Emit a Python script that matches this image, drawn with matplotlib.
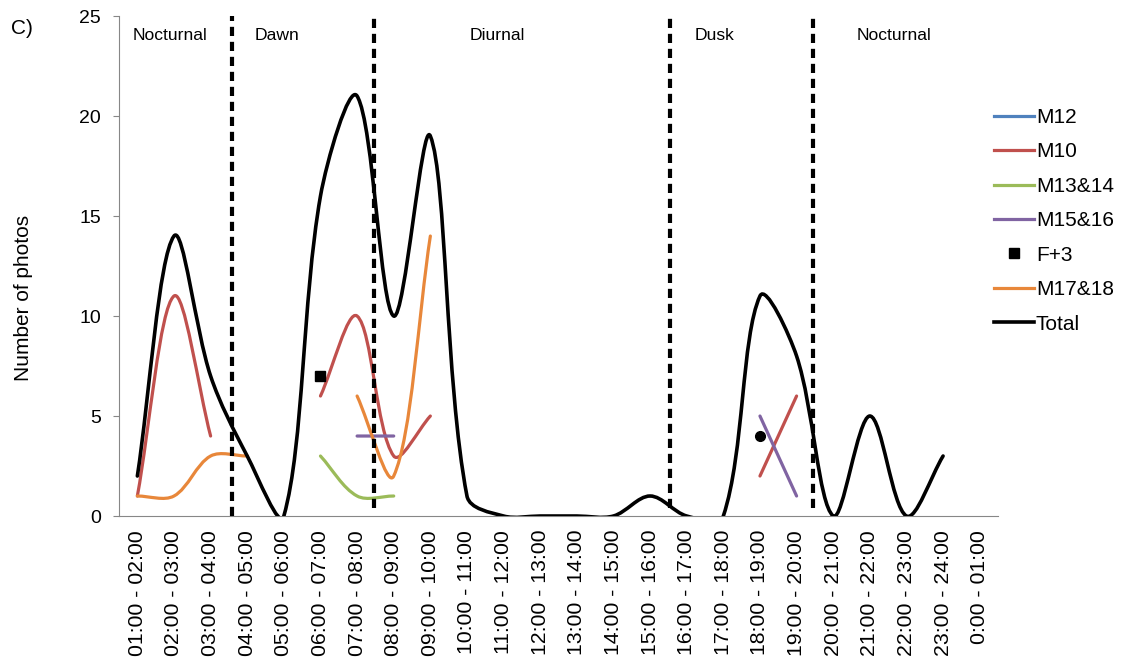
import matplotlib
matplotlib.use("Agg")
import matplotlib.pyplot as plt
import numpy as np
from matplotlib.path import Path
from matplotlib.patches import PathPatch
from matplotlib.lines import Line2D

plt.rcParams['font.family'] = ['Liberation Sans', 'DejaVu Sans']

nan = np.nan

hours = ["01:00 - 02:00", "02:00 - 03:00", "03:00 - 04:00", "04:00 - 05:00",
         "05:00 - 06:00", "06:00 - 07:00", "07:00 - 08:00", "08:00 - 09:00",
         "09:00 - 10:00", "10:00 - 11:00", "11:00 - 12:00", "12:00 - 13:00",
         "13:00 - 14:00", "14:00 - 15:00", "15:00 - 16:00", "16:00 - 17:00",
         "17:00 - 18:00", "18:00 - 19:00", "19:00 - 20:00", "20:00 - 21:00",
         "21:00 - 22:00", "22:00 - 23:00", "23:00 - 24:00", "0:00 - 01:00"]

m12 = [nan] * 24
m10 = [1, 11, 4, nan, nan, 6, 10, 3, 5, nan, nan, nan, nan, nan, nan, nan,
       nan, 2, 6, nan, nan, nan, nan, nan]
m13_14 = [nan, nan, nan, nan, nan, 3, 1, 1, nan, nan, nan, nan, nan, nan, nan,
          nan, nan, nan, nan, nan, nan, nan, nan, nan]
m15_16 = [nan, nan, nan, nan, nan, nan, 4, 4, nan, nan, nan, nan, nan, nan, nan,
          nan, nan, 5, 1, nan, nan, nan, nan, nan]
f3 = [nan, nan, nan, nan, nan, 7, nan, nan, nan, nan, nan, nan, nan, nan, nan,
      nan, nan, 4, nan, nan, nan, nan, nan, nan]
m17_18 = [1, 1, 3, 3, nan, nan, 6, 2, 14, nan, nan, nan, nan, nan, nan, nan,
          nan, nan, nan, nan, nan, nan, nan, nan]
total = [2, 14, 7, 3, 0, 16, 21, 10, 19, 1, 0, 0, 0, 0, 1, 0, 0, 11, 8, 0, 5,
         0, 3, nan]

# period boundaries (category units) and their labels
bounds = [2.58, 6.46, 14.54, 18.45]
periods = ["Nocturnal", "Dawn", "Diurnal", "Dusk", "Nocturnal"]
period_x = [0.89, 3.81, 9.82, 15.75, 20.66]

fig = plt.figure(figsize=(11.22, 6.63), dpi=100)
ax = fig.add_axes([0.1061, 0.2217, 0.7834, 0.7541])
ax.set_xlim(-0.5, 23.5)
ax.set_ylim(0, 25)


def smooth_path(ax, xs, ys):
    """Excel-like smoothed line: bezier through the points, built in screen space."""
    pts = ax.transData.transform(np.column_stack([xs, ys]))
    n = len(pts)
    verts = [pts[0]]
    codes = [Path.MOVETO]
    for i in range(n - 1):
        p0 = pts[i - 1] if i > 0 else pts[i]
        p1 = pts[i]
        p2 = pts[i + 1]
        p3 = pts[i + 2] if i + 2 < n else pts[i + 1]
        d01 = np.hypot(*(p1 - p0))
        d12 = np.hypot(*(p2 - p1))
        d23 = np.hypot(*(p3 - p2))
        c1 = p1 + (p2 - p0) * d12 / (d01 + d12) / 3
        c2 = p2 - (p3 - p1) * d12 / (d12 + d23) / 3
        verts += [c1, c2, p2]
        codes += [Path.CURVE4] * 3
    verts = ax.transData.inverted().transform(np.array(verts))
    return Path(verts, codes)


def plot_smooth(ax, values, color, lw, z):
    vals = np.array(values, dtype=float)
    x = np.arange(len(vals))
    ok = ~np.isnan(vals)
    # split into runs of consecutive points
    start = None
    for i in range(len(vals) + 1):
        if i < len(vals) and ok[i]:
            if start is None:
                start = i
        elif start is not None:
            if i - start > 1:
                p = smooth_path(ax, x[start:i], vals[start:i])
                ax.add_patch(PathPatch(p, fill=False, edgecolor=color, lw=lw,
                                       capstyle='round', joinstyle='round',
                                       zorder=z))
            start = None


c_blue = '#4F81BD'
c_red = '#C0504D'
c_green = '#9BBB59'
c_purple = '#8064A2'
c_orange = '#E8873A'

plot_smooth(ax, m12, c_blue, 2.3, 2)
plot_smooth(ax, m10, c_red, 2.3, 3)
plot_smooth(ax, m13_14, c_green, 2.3, 4)
plot_smooth(ax, m15_16, c_purple, 2.3, 5)
xf = np.arange(24)
f3a = np.array(f3, dtype=float)
ax.plot(xf[:10], f3a[:10], 's', color='black', ms=7, zorder=6)
ax.plot(xf[10:], f3a[10:], 'o', color='black', ms=7, zorder=6)
plot_smooth(ax, m17_18, c_orange, 2.3, 7)
plot_smooth(ax, total, 'black', 2.6, 8)

for i, b in enumerate(bounds):
    ax.plot([b, b], [0 if i == 0 else 0.4, 25], color='black', lw=3,
            linestyle=(0, (2.2, 1.4)), zorder=9, solid_capstyle='butt')

for name, px in zip(periods, period_x):
    ax.text(px, 24.05, name, ha='center', va='center', fontsize=12.6)

ax.set_xticks(np.arange(24))
ax.set_xticklabels(hours, rotation=90, fontsize=15.3)
ax.tick_params(axis='x', length=0, pad=10)
ax.set_yticks([0, 5, 10, 15, 20, 25])
ax.tick_params(axis='y', length=4.3, width=0.8, color='#878787', pad=8.6,
               labelsize=14)
for s in ['top', 'right']:
    ax.spines[s].set_visible(False)
for s in ['left', 'bottom']:
    ax.spines[s].set_color('#878787')
    ax.spines[s].set_linewidth(0.8)

ax.set_ylabel("Number of photos", fontsize=15)
ax.yaxis.set_label_coords(-0.098, 0.436)
fig.text(11 / 1122, 1 - 29 / 663, "C)", fontsize=15, va='center', ha='left')

handles = [Line2D([], [], color=c_blue, lw=2.3),
           Line2D([], [], color=c_red, lw=2.3),
           Line2D([], [], color=c_green, lw=2.3),
           Line2D([], [], color=c_purple, lw=2.3),
           Line2D([], [], color='black', marker='s', ls='none', ms=7),
           Line2D([], [], color=c_orange, lw=2.3),
           Line2D([], [], color='black', lw=2.6)]
labels = ["M12", "M10", "M13&14", "M15&16", "F+3", "M17&18", "Total"]
fig.legend(handles, labels, loc='upper left', bbox_to_anchor=(0.886, 0.837),
           frameon=False, fontsize=15, handlelength=1.9, handletextpad=0.1,
           labelspacing=0.74, borderpad=0, borderaxespad=0)

fig.savefig("out.png", dpi=100)
